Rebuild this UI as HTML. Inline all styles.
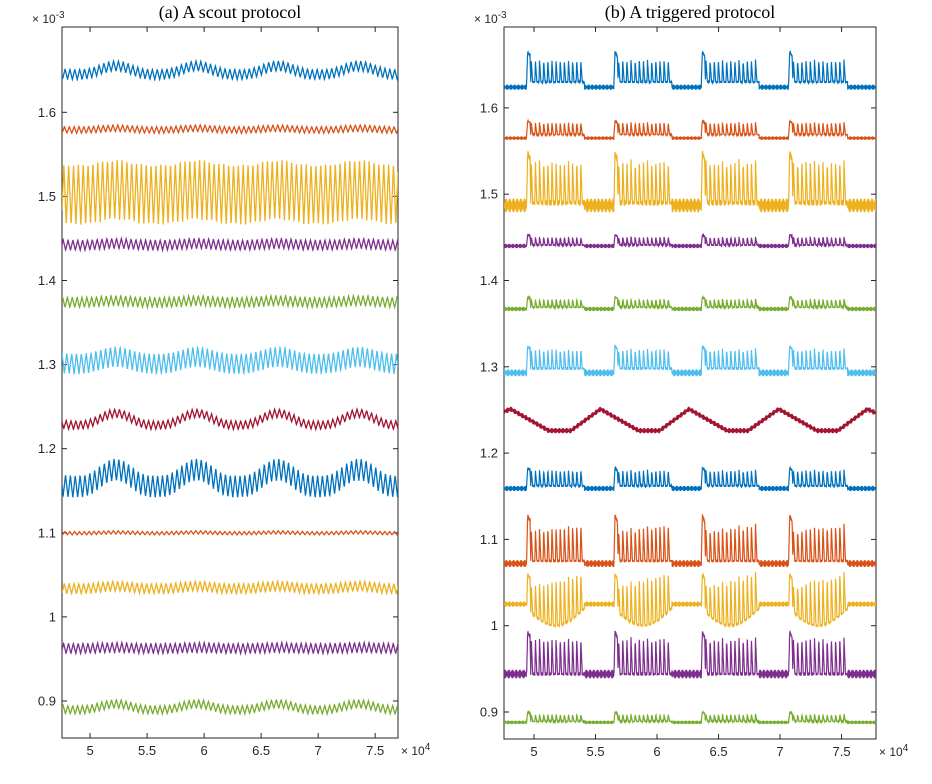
<!DOCTYPE html>
<html><head><meta charset="utf-8"><style>
body{margin:0;background:#fff;}
svg text{font-family:"Liberation Sans",sans-serif;fill:#262626;}
</style></head><body>
<svg id="chart" width="932" height="779" xmlns="http://www.w3.org/2000/svg">
<rect width="932" height="779" fill="#fff"/>
<text x="230" y="18" text-anchor="middle" style="font-family:'Liberation Serif',serif;font-size:18px;fill:#000">(a) A scout protocol</text>
<text x="690" y="18" text-anchor="middle" style="font-family:'Liberation Serif',serif;font-size:18px;fill:#000">(b) A triggered protocol</text>
<g id="left"></g>
<g id="right"></g>
</svg>
<script>
const colors=["#0072BD","#D95319","#EDB120","#7E2F8E","#77AC30","#4DBEEE","#A2142F","#0072BD","#D95319","#EDB120","#7E2F8E","#77AC30"];
const xTicks=[5,5.5,6,6.5,7,7.5];
const xTickLabels=["5","5.5","6","6.5","7","7.5"];
const yTicks=[0.9,1.0,1.1,1.2,1.3,1.4,1.5,1.6];
const yTickLabels=["0.9","1","1.1","1.2","1.3","1.4","1.5","1.6"];
// left panel traces
const leftCenter=[1.650,1.580,1.505,1.443,1.375,1.305,1.235,1.165,1.100,1.035,0.963,0.893];
const leftAmp=[0.006,0.004,0.036,0.006,0.006,0.012,0.005,0.013,0.002,0.006,0.006,0.005];
const leftSlow=[0.010,0.002,0.006,0.002,0.002,0.008,0.014,0.020,0.001,0.003,0.001,0.007];
const leftSlowPeaks=[5.22,5.94,6.65,7.36];
// right panel traces
const rightBase=[1.624,1.565,1.487,1.440,1.367,1.293,null,1.159,1.072,1.025,0.944,0.888];
const rightNoise=[0.006,0.004,0.016,0.005,0.005,0.008,0.006,0.006,0.008,0.006,0.010,0.004];
const rightBottom=[1.630,1.569,1.490,1.441,1.369,1.298,null,1.162,1.075,1.020,0.944,0.889];
const rightTop=[1.655,1.583,1.538,1.450,1.378,1.320,null,1.180,1.110,1.045,0.985,0.897];
const rightFirst=[1.665,1.585,1.548,1.453,1.381,1.324,null,1.183,1.128,1.060,0.993,0.900];
const rightSag=[0,0,0,0,0,0,0,0,0,0.02,0,0];
const rightTilt=[0,0,0,0,0,0,0,0,0.008,0.018,0,0];
const burstStarts=[4.94,5.65,6.36,7.07];
const burstEnds=[5.41,6.12,6.83,7.55];
const redExtremaX=[4.70,4.81,5.12,5.30,5.54,5.85,6.02,6.26,6.57,6.74,6.99,7.30,7.47,7.71,7.80];
const redExtremaV=[1.245,1.251,1.226,1.226,1.251,1.226,1.226,1.251,1.226,1.226,1.251,1.226,1.226,1.251,1.245];

const NS="http://www.w3.org/2000/svg";
function mk(tag,attrs,parent){const e=document.createElementNS(NS,tag);for(const k in attrs)e.setAttribute(k,attrs[k]);parent.appendChild(e);return e;}

function axes(g,L,R,T,B,xmin,xmax,vy,name){
  const sx=v=>L+(v-xmin)/(xmax-xmin)*(R-L);
  xTicks.forEach((t,i)=>{
    const x=sx(t);
    const a=mk('line',{x1:x,x2:x,y1:B,y2:B-5,stroke:'#262626'},g);
    
    const b=mk('line',{x1:x,x2:x,y1:T,y2:T+5,stroke:'#262626'},g);
    
    const tx=mk('text',{x:x,y:B+17,'text-anchor':'middle','font-size':'13'},g);tx.textContent=xTickLabels[i];
    
  });
  yTicks.forEach((t,i)=>{
    const y=vy(t);if(y<T||y>B)return;
    const a=mk('line',{x1:L,x2:L+5,y1:y,y2:y,stroke:'#262626'},g);
    
    const b=mk('line',{x1:R,x2:R-5,y1:y,y2:y,stroke:'#262626'},g);
    
    const tx=mk('text',{x:L-6,y:y+4.5,'text-anchor':'end','font-size':'13'},g);tx.textContent=yTickLabels[i];
    
  });
  const bx=mk('rect',{x:L,y:T,width:R-L,height:B-T,fill:'none',stroke:'#262626'},g);
  
  const e1=mk('text',{x:L-30,y:T-4,'font-size':'12'},g);
  e1.innerHTML='× 10<tspan dy="-5" font-size="10">-3</tspan>';
  
  const e2=mk('text',{x:R+3,y:B+17,'font-size':'12'},g);
  e2.innerHTML='× 10<tspan dy="-5" font-size="10">4</tspan>';
  
  return sx;
}

// LEFT
(function(){
  const g=document.getElementById('left');
  const L=62,R=398,T=27,B=738,xmin=4.754,xmax=7.70;
  const vy=v=>701-(v-0.9)*841;
  const clip=mk('clipPath',{id:'cl'},g);mk('rect',{x:L,y:T,width:R-L,height:B-T},clip);
  axes(g,L,R,T,B,xmin,xmax,vy,'left');
  const P=0.71,fp=0.0425;
  function slow(t){let best=1e9;leftSlowPeaks.forEach(p=>{let d=t-p;d=d-Math.round(d/P)*P;if(Math.abs(d)<Math.abs(best))best=d;});const c=(1+Math.cos(2*Math.PI*best/P))/2;return Math.pow(c,1.6);}
  for(let k=0;k<leftCenter.length;k++){
    let pts=[];
    for(let px=L;px<=R;px+=0.2){
      const t=xmin+(px-L)/(R-L)*(xmax-xmin);
      const ph=((t/fp)+k*0.13)%1;
      const w=ph<0.5?ph*4-1:3-ph*4;
      const v=leftCenter[k]+leftSlow[k]*(slow(t)-0.5)+leftAmp[k]*w;
      pts.push(px.toFixed(2)+','+vy(v).toFixed(2));
    }
    const pl=mk('polyline',{points:pts.join(' '),fill:'none',stroke:colors[k],'stroke-width':'1.3','clip-path':'url(#cl)'},g);
    
    
  }
})();

// RIGHT
(function(){
  const g=document.getElementById('right');
  const L=504,R=876,T=27,B=739,xmin=4.756,xmax=7.78;
  const vy=v=>712-(v-0.9)*863;
  const clip=mk('clipPath',{id:'cr'},g);mk('rect',{x:L,y:T,width:R-L,height:B-T},clip);
  axes(g,L,R,T,B,xmin,xmax,vy,'right');
  const nSp=14;
  for(let k=0;k<rightBase.length;k++){
    let pts=[];
    for(let px=L;px<=R;px+=0.25){
      const t=xmin+(px-L)/(R-L)*(xmax-xmin);
      const noise=((Math.round(px*4))%2===0?1:-1)*(0.7+0.3*Math.sin(px*1.7+k));
      let v;
      if(rightBase[k]===null){
        let i=0;while(i<redExtremaX.length-2&&t>redExtremaX[i+1])i++;
        const u=(t-redExtremaX[i])/(redExtremaX[i+1]-redExtremaX[i]);
        v=redExtremaV[i]+(redExtremaV[i+1]-redExtremaV[i])*u+rightNoise[k]*noise*0.5;
      } else {
        let bi=-1;for(let j=0;j<burstStarts.length;j++){if(t>=burstStarts[j]&&t<burstEnds[j])bi=j;}
        if(bi<0){v=rightBase[k]+rightNoise[k]*noise*0.5;}
        else{
          const u=(t-burstStarts[bi])/(burstEnds[bi]-burstStarts[bi]);
          const sp=u*nSp, n=Math.floor(sp), ph=sp-n;
          const bot=rightBottom[k]-rightSag[k]*Math.sin(Math.PI*u);
          const top=(n===0?rightFirst[k]:rightTop[k]+rightTilt[k]*u);
          let f;
          if(n===0){f=ph<0.25?ph/0.25:(ph<0.8?1-(ph-0.25)*0.25:Math.max(0,1-(ph-0.8)*5));}
          else{f=ph<0.12?ph/0.12:Math.max(0,1-(ph-0.12)/0.35);}
          v=bot+(top-bot)*f+rightNoise[k]*noise*0.2;
        }
      }
      pts.push(px.toFixed(2)+','+vy(v).toFixed(2));
    }
    const pl=mk('polyline',{points:pts.join(' '),fill:'none',stroke:colors[k],'stroke-width':'1.2','clip-path':'url(#cr)'},g);
    
    
  }
})();
</script>
</body></html>
